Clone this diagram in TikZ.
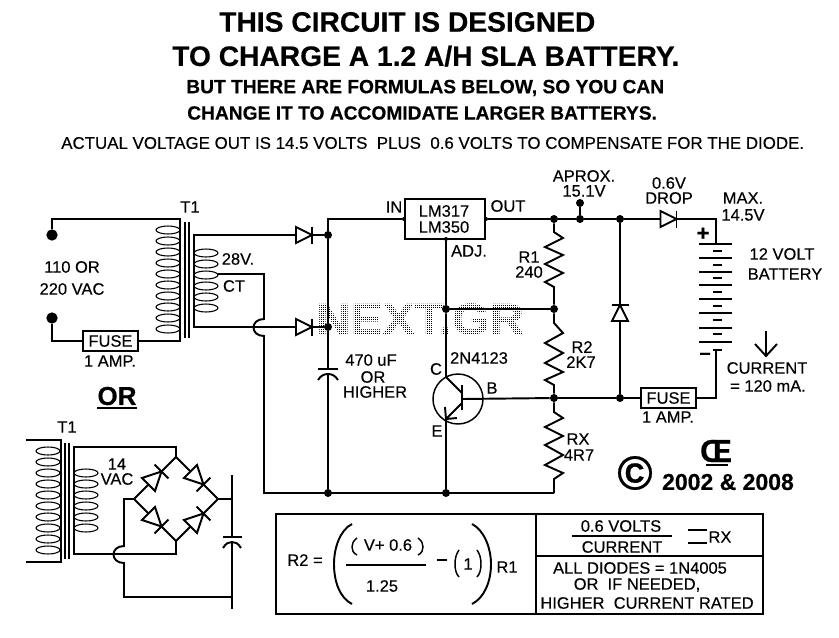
\documentclass[tikz,border=0pt]{standalone}
\usepackage{fontspec}
\setmainfont[UprightFeatures={FakeBold=0.25},BoldFeatures={FakeBold=0.4}]{Liberation Sans}
\newcommand\fpx[1]{\pgfmathsetmacro\fptsize{#1*0.75}\fontsize{\fptsize}{\fptsize}\selectfont}
\tikzset{
  wire/.style={line width=1.45pt,line join=miter},
  thin wire/.style={line width=1.1pt},
  coil/.style={line width=0.8pt},
  lab/.style={inner sep=0pt,font=\fpx{16.5}},
  blab/.style={inner sep=0pt,font=\fpx{#1}\bfseries},
  dot/.style={circle,fill=black,inner sep=0pt,minimum size=6pt},
  term/.style={circle,fill=black,inner sep=0pt,minimum size=8.5pt},
  pin/.style={circle,fill=black,inner sep=0pt,minimum size=3pt},
  fuse/.style={draw,line width=1.45pt,inner sep=0pt,minimum width=41.5pt,minimum height=15pt,font=\fpx{16.5}}
}
\newcommand\lab[4]{\node[lab] (#1) at (#2,#3) {#4};}
\newcommand\mkdiode[5]{%
  \begin{scope}[shift={(#2,#3)},rotate=#4,scale=#5]
    \coordinate (#1-a) at (-8,0);
    \coordinate (#1-c) at (8,0);
    \draw[wire] (-8,-8) -- (8,0) -- (-8,8) -- cycle;
    \draw[wire] (8,-8.5) -- (8,8.5);
  \end{scope}}
\newcommand\coils[4]{\foreach \k in {1,...,#4} {\draw[coil] (#1,{#3+(\k-1)*11}) ellipse [x radius=#2,y radius=4];}}
\begin{document}
\begin{tikzpicture}[x=0.75pt,y=-0.75pt]
\fill[white] (0,0) rectangle (839,637);
\useasboundingbox (0,0) rectangle (839,637);

% watermark
\node[inner sep=0pt,font=\fpx{44}\bfseries,text=black,xscale=1.09] (wm) at (420,319) {NEXT.GR};
\foreach \k in {0,...,62} {\draw[white,line width=0.75pt] ({300+\k*4+0.5},295) -- ({300+\k*4+0.5},345);
  \draw[white,line width=0.75pt] ({302+\k*4+0.5},295) -- ({302+\k*4+0.5},345);}
\foreach \k in {0,...,13} {\draw[white,line width=0.75pt] (300,{294+\k*4+0.5}) -- (545,{294+\k*4+0.5});
  \draw[white,line width=0.75pt] (300,{296+\k*4+0.5}) -- (545,{296+\k*4+0.5});}

% titles
\node[blab=28.2,anchor=west] (t1) at (219,22) {THIS CIRCUIT IS DESIGNED};
\node[blab=28.2,anchor=west] (t2) at (172,56) {TO CHARGE A 1.2 A/H SLA BATTERY.};
\node[blab=19.2,anchor=west] (t3) at (186,88) {BUT THERE ARE FORMULAS BELOW, SO YOU CAN};
\node[blab=19.2,anchor=west] (t4) at (187,113) {CHANGE IT TO ACCOMIDATE LARGER BATTERYS.};
\node[lab,anchor=west,font=\fpx{16.9}] (t5) at (61,143) {ACTUAL VOLTAGE OUT IS 14.5 VOLTS~ PLUS~ 0.6 VOLTS TO COMPENSATE FOR THE DIODE.};

% main transformer
\node[term] (ta) at (52,235) {};
\node[term] (tb) at (52,318) {};
\node[fuse] (f1) at (110.5,341) {FUSE};
\coordinate (ptop) at (180,219);
\coordinate (pbot) at (180,341);
\draw[wire] (ta) |- (ptop) -- (pbot) -- (f1);
\draw[wire] (tb) |- (f1);
\coils{168}{12}{230}{10}
\draw[wire] (185,222) -- (185,338);
\draw[wire] (189,222) -- (189,338);
\coils{206}{12}{253}{6}
\mkdiode{d1}{304}{235}{0}{1}
\mkdiode{d2}{304}{327}{0}{1}
\node[dot] (j1) at (328,235) {};
\node[dot] (j2) at (328,327) {};
\node[dot] (j3) at (328,493) {};
\node[dot] (j4) at (446,493) {};
\draw[wire] (d1-a) -- (194,235) -- (194,327) -- (d2-a);
\draw[wire] (d1-c) -- (j1);
\draw[wire] (d2-c) -- (j2);
\coordinate (ct) at (218,274);
\coordinate (h1) at (264,274);
\coordinate (h2) at (264,319);
\coordinate (h3) at (264,336);
\coordinate (bl) at (264,493);
\coordinate (br) at (554,493);
\draw[wire] (ct) -- (h1) -- (h2) .. controls (250,319) and (250,336) .. (h3) -- (bl) -- (br);

% regulator
\node[draw,line width=1.45pt,inner sep=0pt,minimum width=60pt,minimum height=30pt] (reg) at (445,219) {};
\lab{lm1}{444}{211}{LM317}
\lab{lm2}{444}{227}{LM350}
\node[pin] (pi) at (reg.west) {};
\node[pin] (po) at (reg.east) {};
\node[pin] (pa) at (446,239) {};
\coordinate (vtop) at (328,219);
\draw[wire] (pi) -- (vtop) -- (j1) -- (j2);
\coordinate (cap1) at (328,369);
\draw[wire] (j2) -- (cap1);
\draw[wire] (318,369) -- (338,369);
\draw[wire] (318,380) .. controls (321,375) and (325,374) .. (328,374) .. controls (331,374) and (335,375) .. (338,380);
\draw[wire] (328,374) -- (j3);

\node[dot] (o1) at (554,219) {};
\node[dot] (o2) at (580,219) {};
\node[dot] (o3) at (620,219) {};
\node[pin,minimum size=6pt] (tp) at (580,203) {};
\draw[wire] (po) -- (o1) -- (o2) -- (o3);
\draw[wire] (tp) -- (o2);
\node[dot] (r1b) at (554,309) {};
\node[dot] (adj) at (446,309) {};
\node[dot] (r2b) at (554,398) {};
\node[dot] (dbot) at (620,398) {};
\draw[wire] (o1) -- (554,232) -- (563,238) -- (545,247) -- (563,255) -- (545,264) -- (563,273) -- (545,282) -- (554,287) -- (r1b);
\draw[wire] (r1b) -- (554,323) -- (563,333) -- (545,343) -- (563,353) -- (545,363) -- (563,372) -- (545,380) -- (554,385) -- (r2b);
\draw[wire] (r2b) -- (554,412) -- (563,418) -- (545,427) -- (563,436) -- (545,445) -- (563,455) -- (545,465) -- (563,473) -- (554,479) -- (br);
\draw[wire] (pa) -- (adj) -- (r1b);

% transistor
\node[draw,circle,line width=1.1pt,inner sep=0pt,minimum size=37.5pt] (q) at (458,399) {};
\coordinate (qc) at (446,377);
\coordinate (qe) at (446,419);
\draw[wire] (adj) -- (qc) -- (462,393);
\draw[wire] (462,385) -- (462,410);
\draw[wire] (462,403) -- (qe);
\draw[wire] (445,407) -- (qe) -- (457,418);
\draw[wire] (qe) -- (j4);
\draw[wire] (462,399) -- (r2b);

% output
\mkdiode{d3}{668.5}{219}{0}{1}
\mkdiode{d4}{620}{313}{90}{1}
\draw[wire] (o3) -- (d3-a);
\draw[wire] (o3) -- (d4-c);
\draw[wire] (d4-a) -- (dbot);
\coordinate (bt) at (716,219);
\coordinate (b0) at (716,244);
\draw[wire] (d3-c) -- (bt) -- (b0);
\foreach \y in {244,258,272,285,299,313,328,342} {\draw[wire] (699,\y) -- (732,\y);}
\foreach \y in {251,265,278,292,306,320,334} {\draw[wire] (713,\y) -- (722,\y);}
\draw[wire] (713,350) -- (722,350);
\node[fuse] (f2) at (668.5,398) {FUSE};
\coordinate (bb) at (716,350);
\coordinate (bc) at (716,398);
\draw[wire] (bb) -- (bc) -- (f2);
\draw[wire] (r2b) -- (dbot) -- (f2);
\node[blab=22] (plus) at (703,234) {+};
\node[blab=20] (minus) at (705,356) {–};
\coordinate (ia) at (766,331);
\coordinate (ib) at (766,356);
\draw[wire] (ia) -- (ib);
\draw[wire] (755,344) -- (ib) -- (777,344);

% small transformer
\coils{48}{12}{451}{10}
\coordinate (pa1) at (26,440);
\coordinate (pa2) at (61,440);
\coordinate (pa3) at (61,562);
\coordinate (pa4) at (26,562);
\draw[wire] (pa1) -- (pa2) -- (pa3) -- (pa4);
\draw[wire] (65,443) -- (65,559);
\draw[wire] (69,443) -- (69,559);
\coils{86}{12}{473}{6}
\coordinate (bTop) at (176,457);
\coordinate (bBot) at (176,541);
\coordinate (bL) at (134,499);
\coordinate (bR) at (218,499);
\mkdiode{tl}{155}{478}{45}{1.15}
\mkdiode{tr}{197}{478}{-45}{1.15}
\mkdiode{ll}{155}{520}{-45}{1.15}
\mkdiode{lr}{197}{520}{45}{1.15}
\draw[wire] (bL) -- (tl-a); \draw[wire] (tl-c) -- (bTop) -- (tr-a); \draw[wire] (tr-c) -- (bR);
\draw[wire] (bL) -- (ll-a); \draw[wire] (ll-c) -- (bBot) -- (lr-a); \draw[wire] (lr-c) -- (bR);
\draw[wire] (bTop) -- (176,447) -- (74,447) -- (74,554) -- (176,554) -- (bBot);
\coordinate (cv) at (232,499);
\coordinate (cb) at (232,597);
\draw[wire] (bR) -- (cv);
\draw[wire] (bL) -- (124,499) -- (124,546) .. controls (110,546) and (110,563) .. (124,563) -- (124,597) -- (cb);
\draw[wire] (232,475) -- (232,537);
\draw[wire] (223,537) -- (242,537);
\draw[wire] (223,548) .. controls (226,543) and (229,542) .. (232,542) .. controls (235,542) and (238,543) .. (241,548);
\draw[wire] (232,542) -- (232,609);

% formula box
\node[draw,line width=1.45pt,inner sep=0pt,minimum width=365pt,minimum height=75pt] (box) at (519.5,564) {};
\coordinate (dv1) at (536,514);
\coordinate (dv2) at (536,614);
\draw[wire] (dv1) -- (dv2);
\coordinate (dh1) at (536,556);
\coordinate (dh2) at (763,556);
\draw[wire] (dh1) -- (dh2);
\draw[wire] (346,565) -- (426,565);
\draw[wire] (352,524) .. controls (340,530) and (334,548) .. (334,564) .. controls (334,582) and (340,598) .. (352,604);
\draw[wire] (472,524) .. controls (484,530) and (491,548) .. (491,564) .. controls (491,582) and (484,598) .. (472,604);
\draw[thin wire] (357,538) .. controls (353,541) and (352,544) .. (352,547) .. controls (352,550) and (353,553) .. (357,555);
\draw[thin wire] (418,538) .. controls (422,541) and (423,544) .. (423,547) .. controls (423,550) and (422,553) .. (418,555);
\draw[thin wire] (459,550) .. controls (456,554) and (455,559) .. (455,564) .. controls (455,569) and (456,574) .. (459,577);
\draw[thin wire] (477,550) .. controls (480,554) and (481,559) .. (481,564) .. controls (481,569) and (480,574) .. (477,577);
\draw[wire] (437,560) -- (447,560);
\draw[wire] (572,536) -- (672,536);
\draw[thin wire] (688,530) -- (707,530);
\draw[thin wire] (688,543) -- (707,543);
\lab{r2f}{305}{560}{R2 =}
\lab{r1f}{507}{567}{R1}
\lab{vf}{388}{545}{V+ 0.6}
\lab{k125}{382}{586}{1.25}
\node[lab] (one) at (468,564) {1};
\lab{v06}{621}{526}{0.6 VOLTS}
\lab{cur}{622}{547}{CURRENT}
\lab{rxf}{720}{537}{RX}
\lab{dio1}{640}{568}{ALL DIODES = 1N4005}
\lab{dio2}{637}{585}{OR~ IF NEEDED,}
\lab{dio3}{647}{603}{HIGHER~ CURRENT RATED}

% labels
\lab{lt1}{190}{207}{T1}
\lab{l28}{238}{259}{28V.}
\lab{lct}{234}{286}{CT}
\lab{l110}{72}{267}{110 OR}
\lab{l220}{72}{289}{220 VAC}
\lab{lam1}{110}{361}{1 AMP.}
\node[blab=26] (lor) at (117,396) {OR};
\coordinate (ora) at (97,408);
\coordinate (orb) at (137,408);
\draw[wire] (ora) -- (orb);
\lab{lt2}{67}{427}{T1}
\lab{l14}{117}{464}{14}
\lab{lvac}{117}{479}{VAC}
\lab{lin}{394}{207}{IN}
\lab{lout}{508}{206}{OUT}
\lab{ladj}{469}{251}{ADJ.}
\lab{lr1}{529}{257}{R1}
\lab{l240}{529}{272}{240}
\lab{l470}{371}{360}{470 uF}
\lab{lor2}{373}{377}{OR}
\lab{lhi}{375}{392}{HIGHER}
\lab{lq}{479}{358}{2N4123}
\lab{lc}{436}{369}{C}
\lab{lb}{492}{388}{B}
\lab{le}{437}{431}{E}
\lab{lap}{584}{176}{APROX.}
\lab{l151}{584}{191}{15.1V}
\lab{l06}{669}{183}{0.6V}
\lab{ldr}{669}{198}{DROP}
\lab{lmax}{743}{198}{MAX.}
\lab{l145}{743}{215}{14.5V}
\lab{l12}{782}{254}{12 VOLT}
\lab{lbat}{785}{274}{BATTERY}
\lab{lcur}{767}{368}{CURRENT}
\lab{l120}{768}{386}{= 120 mA.}
\lab{lam2}{668}{417}{1 AMP.}
\lab{lr2}{582}{347}{R2}
\lab{l2k}{581}{362}{2K7}
\lab{lrx}{578}{439}{RX}
\lab{l4r}{579}{455}{4R7}
\node[blab=32] (oe) at (716,451) {Œ};
\coordinate (oea) at (706,465);
\coordinate (oeb) at (728,465);
\draw[wire] (oea) -- (oeb);
\node[blab=48] (cpr) at (635,473) {©};
\node[blab=23] (yr) at (728,482) {2002 \& 2008};
\end{tikzpicture}
\end{document}
